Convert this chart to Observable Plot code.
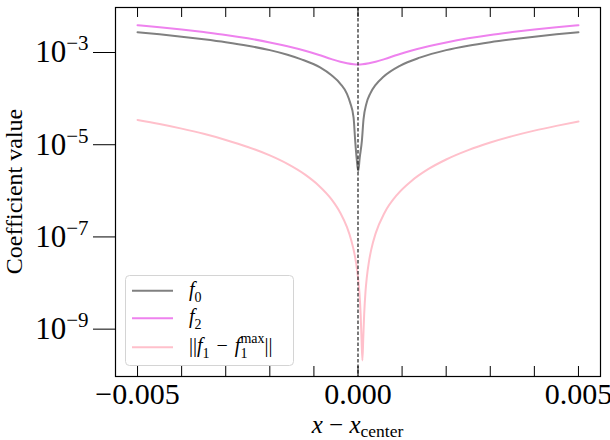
<!DOCTYPE html>
<html><head><meta charset="utf-8">
<script src="https://cdn.jsdelivr.net/npm/d3@7"></script>
<script src="https://cdn.jsdelivr.net/npm/@observablehq/plot@0.6"></script>
<style>body{margin:0;background:#fff}</style>
</head><body><div id="chart"></div>
<script>
// ---- data ----
const f0X = [-0.005,-0.0045,-0.004,-0.0035,-0.003,-0.0025,-0.002,-0.0016,-0.0013,-0.00086,-0.0006,-0.0004,-0.00025,-0.00018,-0.0001,-0.0000635,-0.00003,0.000005,0.00004,0.000088,0.000125,0.00019,0.00028,0.0004,0.00057,0.00096,0.0014,0.002,0.0025,0.003,0.0035,0.004,0.0045,0.005];
const f0Y = [2.5e-3,2.25e-3,2.0e-3,1.75e-3,1.51e-3,1.27e-3,1.02e-3,8.1e-4,6.5e-4,4.3e-4,2.9e-4,1.9e-4,1.15e-4,7.5e-5,3.5e-5,1.1e-5,4.5e-6,2.4e-6,4.8e-6,1.1e-5,3.2e-5,7.0e-5,1.18e-4,1.8e-4,2.65e-4,4.7e-4,7.0e-4,1.02e-3,1.27e-3,1.51e-3,1.75e-3,2.0e-3,2.25e-3,2.5e-3];

const f2X = [-0.005,-0.0045,-0.004,-0.0035,-0.003,-0.0025,-0.002,-0.0016,-0.0012,-0.0009,-0.0006,-0.0004,-0.00025,-0.0001,0,0.0001,0.00025,0.0004,0.0006,0.0009,0.0012,0.0016,0.002,0.0025,0.003,0.0035,0.004,0.0045,0.005];
const f2Y = [3.55e-3,3.2e-3,2.86e-3,2.51e-3,2.18e-3,1.84e-3,1.5e-3,1.24e-3,9.9e-4,8.1e-4,6.5e-4,5.7e-4,5.3e-4,5.05e-4,5.0e-4,5.05e-4,5.3e-4,5.7e-4,6.5e-4,8.1e-4,9.9e-4,1.24e-3,1.5e-3,1.84e-3,2.18e-3,2.51e-3,2.86e-3,3.2e-3,3.55e-3];

const fdX = [-0.005,-0.0045,-0.004,-0.0035,-0.003,-0.0025,-0.002,-0.0016,-0.0012,-0.0009,-0.0006,-0.0004,-0.00025,-0.00015,-0.00008,-0.00004,0,0.00003,0.00006,0.00008,0.0001,0.00012,0.00014,0.00017,0.0002,0.00025,0.0003,0.0004,0.0006,0.0009,0.0012,0.0016,0.002,0.0025,0.003,0.0035,0.004,0.0045,0.005];
const fdY = [3.12e-5,2.54e-5,2.02e-5,1.56e-5,1.15e-5,8.1e-6,5.3e-6,3.47e-6,2.03e-6,1.2e-6,5.9e-7,3.0e-7,1.47e-7,7.5e-8,3.9e-8,2.35e-8,1.2e-8,5.9e-9,1.9e-9,5.5e-10,1.9e-10,6.0e-10,1.9e-9,5.9e-9,1.2e-8,2.7e-8,4.8e-8,1.08e-7,3.0e-7,7.7e-7,1.45e-6,2.7e-6,4.33e-6,6.9e-6,1.01e-5,1.39e-5,1.83e-5,2.32e-5,2.88e-5];

const xMajorTicks = [-0.005, 0, 0.005];
const xMajorLabels = ["\u22120.005", "0.000", "0.005"];
const xMinorTicks = [-0.005,-0.004,-0.003,-0.002,-0.001,0,0.001,0.002,0.003,0.004,0.005];
const yTicks = [1e-3, 1e-5, 1e-7, 1e-9];
const yTickExp = ["\u22123", "\u22125", "\u22127", "\u22129"];
const seriesNames = ["f0", "f2", "diff"];
const seriesColors = ["#808080", "#ee82ee", "#ffc0cb"];

const toRows = (xs, ys) => xs.map((x, i) => ({x, y: ys[i]}));
const f0Data = toRows(f0X, f0Y), f2Data = toRows(f2X, f2Y), fdData = toRows(fdX, fdY);

const W = 610, H = 440, mT = 7, mB = 64, mL = 115, mR = 10;
const innerH = H - mT - mB;
const tickLen = 10;
const FONT = "Liberation Serif";

const chart = Plot.plot({
  width: W, height: H,
  marginTop: mT, marginBottom: mB, marginLeft: mL, marginRight: mR,
  style: {fontFamily: FONT, background: "white", color: "black", overflow: "visible"},
  x: {domain: [-0.0055, 0.0055]},
  y: {type: "log", domain: [8.5e-11, 8.57e-3]},
  marks: [
    Plot.line(f0Data, {x: "x", y: "y", stroke: seriesColors[0], strokeWidth: 2, curve: "monotone-x"}),
    Plot.line(f2Data, {x: "x", y: "y", stroke: seriesColors[1], strokeWidth: 2, curve: "monotone-x"}),
    Plot.line(fdData, {x: "x", y: "y", stroke: seriesColors[2], strokeWidth: 2, curve: "monotone-x"}),
    Plot.ruleX([0], {stroke: "#222", strokeWidth: 1.2, strokeDasharray: "3.5,2"}),
    Plot.tickX(xMinorTicks, {x: d => d, stroke: "black", strokeWidth: 1, insetTop: innerH - tickLen}),
    Plot.tickX(xMinorTicks, {x: d => d, stroke: "black", strokeWidth: 1, insetBottom: innerH - tickLen}),
    Plot.axisX(xMajorTicks, {tickSize: 0, tickPadding: 6, fontSize: 30, label: null,
      tickFormat: d => xMajorLabels[xMajorTicks.indexOf(d)]}),
    Plot.axisY(yTicks, {tickSize: 22, tickPadding: 5, fontSize: 31, label: null, dy: 2, stroke: "black",
      tickFormat: d => "10^" + yTickExp[yTicks.indexOf(d)]}),
    Plot.frame({stroke: "black", strokeWidth: 1.2})
  ]
});
document.getElementById("chart").appendChild(chart);

const svg = d3.select(chart);

// superscript y tick labels
svg.selectAll('g[aria-label="y-axis tick label"] text').each(function() {
  const t = d3.select(this);
  const [base, exp] = t.text().split("^");
  t.text("");
  t.append("tspan").text(base);
  t.append("tspan").attr("dy", -12).attr("font-size", 21).text(exp);
});

// rich text helper
function rich(g, x, y, segs, size, anchor, subShift) {
  const t = g.append("text").attr("x", x).attr("y", y).attr("font-size", size)
    .attr("font-family", FONT).attr("text-anchor", anchor || "start").attr("fill", "black");
  let cur = 0;
  for (const s of segs) {
    const sp = t.append("tspan").text(s.t);
    let target = 0, fs = size;
    if (s.k === "sub") { target = subShift != null ? subShift : size * 0.3; fs = size * 0.7; }
    if (s.k === "sup") { target = -size * 0.45; fs = size * 0.7; }
    if (s.k === "i") sp.attr("font-style", "italic");
    if (fs !== size) sp.attr("font-size", fs);
    if (target !== cur) { sp.attr("dy", target - cur); cur = target; }
    if (s.dx) sp.attr("dx", s.dx);
  }
  return t;
}

// axis labels
rich(svg, 357.5, 432.5, [{t: "x", k: "i"}, {t: " \u2212 ", k: "r"}, {t: "x", k: "i"}, {t: "center", k: "sub"}], 25, "middle", 4);
svg.append("text").attr("transform", "translate(22,191.5) rotate(-90)")
  .attr("text-anchor", "middle").attr("font-family", FONT).attr("font-size", 24).attr("fill", "black")
  .text("Coefficient value");

// legend
const lg = svg.append("g");
lg.append("rect").attr("x", 125.5).attr("y", 275.5).attr("width", 168).attr("height", 90).attr("rx", 4)
  .attr("fill", "white").attr("fill-opacity", 0.8).attr("stroke", "#d4d4d4").attr("stroke-width", 1);
const legendY = [290.7, 318.3, 347.3];
const legendLabels = [
  [{t: "f", k: "i"}, {t: "0", k: "sub"}],
  [{t: "f", k: "i"}, {t: "2", k: "sub"}],
  [{t: "||", k: "r"}, {t: "f", k: "i"}, {t: "1", k: "sub"}, {t: " \u2212 ", k: "r"}, {t: "f", k: "i"}, {t: "1", k: "sub"}, {t: "max", k: "sup", dx: -7}, {t: "||", k: "r"}]
];
seriesNames.forEach((n, i) => {
  lg.append("line").attr("x1", 132).attr("x2", 173).attr("y1", legendY[i]).attr("y2", legendY[i])
    .attr("stroke", seriesColors[i]).attr("stroke-width", 2);
  rich(lg, 189, legendY[i] + 5, legendLabels[i], 20).attr("word-spacing", 2);
});
</script>
</body></html>
